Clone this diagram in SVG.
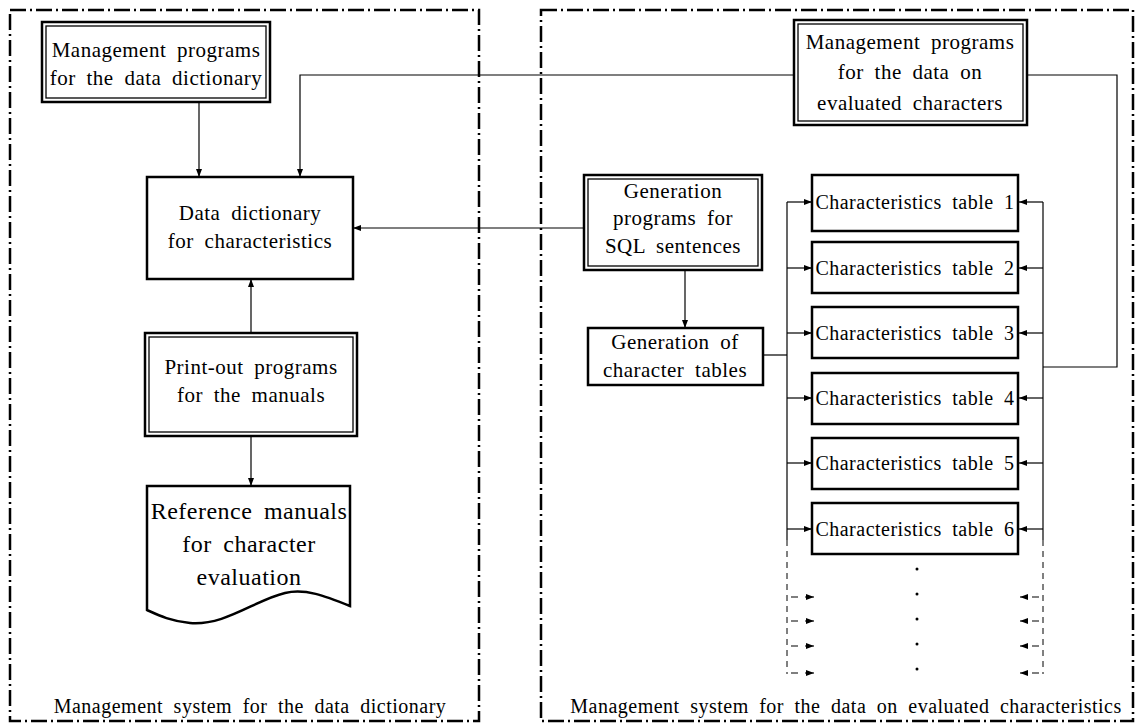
<svg xmlns="http://www.w3.org/2000/svg" width="1141" height="723" viewBox="0 0 1141 723">
<defs>
<style>
text{font-family:"Liberation Serif","Times New Roman",serif;fill:#000;text-anchor:middle;letter-spacing:0.5px;word-spacing:5px}
.t21{font-size:21px}
.t20{font-size:20px}
.t24{font-size:24px}
.frame{fill:none;stroke:#000;stroke-width:2.5;stroke-dasharray:16 4 2 4}
.box{fill:#fff;stroke:#000;stroke-width:2.5}
.inner{fill:none;stroke:#000;stroke-width:1.3}
.conn path{fill:none;stroke:#000;stroke-width:1.2}
.conn .dash{stroke-dasharray:6 5;stroke-width:1}
</style>
<marker id="ah" markerUnits="userSpaceOnUse" markerWidth="8" markerHeight="6" refX="8" refY="3" orient="auto">
<path d="M0,0 L8,3 L0,6 z" fill="#000"/>
</marker>
</defs>
<rect width="1141" height="723" fill="#fff"/>

<g id="frame-left">
<rect class="frame" x="10" y="10" width="469" height="711"/>
<text class="t20" x="250" y="713">Management system for the data dictionary</text>
</g>
<g id="frame-right">
<rect class="frame" x="541" y="10" width="592" height="711"/>
<text class="t20" x="846" y="713">Management system for the data on evaluated characteristics</text>
</g>

<g class="conn" id="connectors">
<path d="M199 102 V177" marker-end="url(#ah)"/>
<path d="M794 75 H300 V177" marker-end="url(#ah)"/>
<path d="M584 228 H353" marker-end="url(#ah)"/>
<path d="M251 333 V279" marker-end="url(#ah)"/>
<path d="M251 436 V486" marker-end="url(#ah)"/>
<path d="M685 270 V328" marker-end="url(#ah)"/>
<path d="M763 355 H787"/>
<path d="M787 202 V540"/>
<path class="dash" d="M787 540 V674"/>
<path d="M787 202 H812" marker-end="url(#ah)"/>
<path d="M787 268 H812" marker-end="url(#ah)"/>
<path d="M787 333 H812" marker-end="url(#ah)"/>
<path d="M787 398 H812" marker-end="url(#ah)"/>
<path d="M787 463 H812" marker-end="url(#ah)"/>
<path d="M787 529 H812" marker-end="url(#ah)"/>
<path d="M1027 75 H1117 V367 H1043"/>
<path d="M1043 202 V540"/>
<path class="dash" d="M1043 540 V674"/>
<path d="M1043 202 H1019" marker-end="url(#ah)"/>
<path d="M1043 268 H1019" marker-end="url(#ah)"/>
<path d="M1043 333 H1019" marker-end="url(#ah)"/>
<path d="M1043 398 H1019" marker-end="url(#ah)"/>
<path d="M1043 463 H1019" marker-end="url(#ah)"/>
<path d="M1043 529 H1019" marker-end="url(#ah)"/>
<path d="M791 597 H798 M805 597 H814" marker-end="url(#ah)"/>
<path d="M791 621 H798 M805 621 H814" marker-end="url(#ah)"/>
<path d="M791 646 H798 M805 646 H814" marker-end="url(#ah)"/>
<path d="M791 673 H798 M805 673 H814" marker-end="url(#ah)"/>
<path d="M1039 597 H1032 M1028 597 H1020" marker-end="url(#ah)"/>
<path d="M1039 621 H1032 M1028 621 H1020" marker-end="url(#ah)"/>
<path d="M1039 646 H1032 M1028 646 H1020" marker-end="url(#ah)"/>
<path d="M1039 673 H1032 M1028 673 H1020" marker-end="url(#ah)"/>
</g>

<g id="dots" fill="#000">
<circle cx="917" cy="569" r="1.5"/>
<circle cx="917" cy="594" r="1.5"/>
<circle cx="917" cy="619" r="1.5"/>
<circle cx="917" cy="644" r="1.5"/>
<circle cx="917" cy="669" r="1.5"/>
</g>

<g id="mgmt-dict">
<rect class="box" x="42" y="22" width="228" height="80"/>
<rect class="inner" x="46" y="26" width="220" height="72"/>
<text class="t21" x="156" y="57">Management programs</text>
<text class="t21" x="156" y="85">for the data dictionary</text>
</g>

<g id="data-dict">
<rect class="box" x="147" y="177" width="206" height="102"/>
<text class="t21" x="250" y="220">Data dictionary</text>
<text class="t21" x="250" y="248">for characteristics</text>
</g>

<g id="printout">
<rect class="box" x="145" y="333" width="212" height="103"/>
<rect class="inner" x="149" y="337" width="204" height="95"/>
<text class="t21" x="251" y="374">Print-out programs</text>
<text class="t21" x="251" y="402">for the manuals</text>
</g>

<g id="ref-manuals">
<path class="box" d="M147 486 H350 V606 C325 596 305 588 285 593 C255 600 225 626 190 623 C170 621 158 615 147 610 Z"/>
<text class="t24" x="249" y="519">Reference manuals</text>
<text class="t24" x="249" y="552">for character</text>
<text class="t24" x="249" y="585">evaluation</text>
</g>

<g id="mgmt-eval">
<rect class="box" x="794" y="20" width="233" height="105"/>
<rect class="inner" x="798" y="24" width="225" height="97"/>
<text class="t21" x="910" y="49">Management programs</text>
<text class="t21" x="910" y="79">for the data on</text>
<text class="t21" x="910" y="110">evaluated characters</text>
</g>

<g id="sql-gen">
<rect class="box" x="584" y="175" width="178" height="95"/>
<rect class="inner" x="588" y="179" width="170" height="87"/>
<text class="t21" x="673" y="198">Generation</text>
<text class="t21" x="673" y="225">programs for</text>
<text class="t21" x="673" y="253">SQL sentences</text>
</g>

<g id="gen-tables">
<rect class="box" x="588" y="328" width="175" height="57"/>
<text class="t21" x="675" y="349">Generation of</text>
<text class="t21" x="675" y="377">character tables</text>
</g>

<g id="table1"><rect class="box" x="812" y="175" width="206" height="56"/><text class="t20" x="915" y="209">Characteristics table 1</text></g>
<g id="table2"><rect class="box" x="812" y="242" width="206" height="51"/><text class="t20" x="915" y="275">Characteristics table 2</text></g>
<g id="table3"><rect class="box" x="812" y="307" width="206" height="51"/><text class="t20" x="915" y="340">Characteristics table 3</text></g>
<g id="table4"><rect class="box" x="812" y="373" width="206" height="51"/><text class="t20" x="915" y="405">Characteristics table 4</text></g>
<g id="table5"><rect class="box" x="812" y="438" width="206" height="51"/><text class="t20" x="915" y="470">Characteristics table 5</text></g>
<g id="table6"><rect class="box" x="812" y="503" width="206" height="51"/><text class="t20" x="915" y="536">Characteristics table 6</text></g>
</svg>
